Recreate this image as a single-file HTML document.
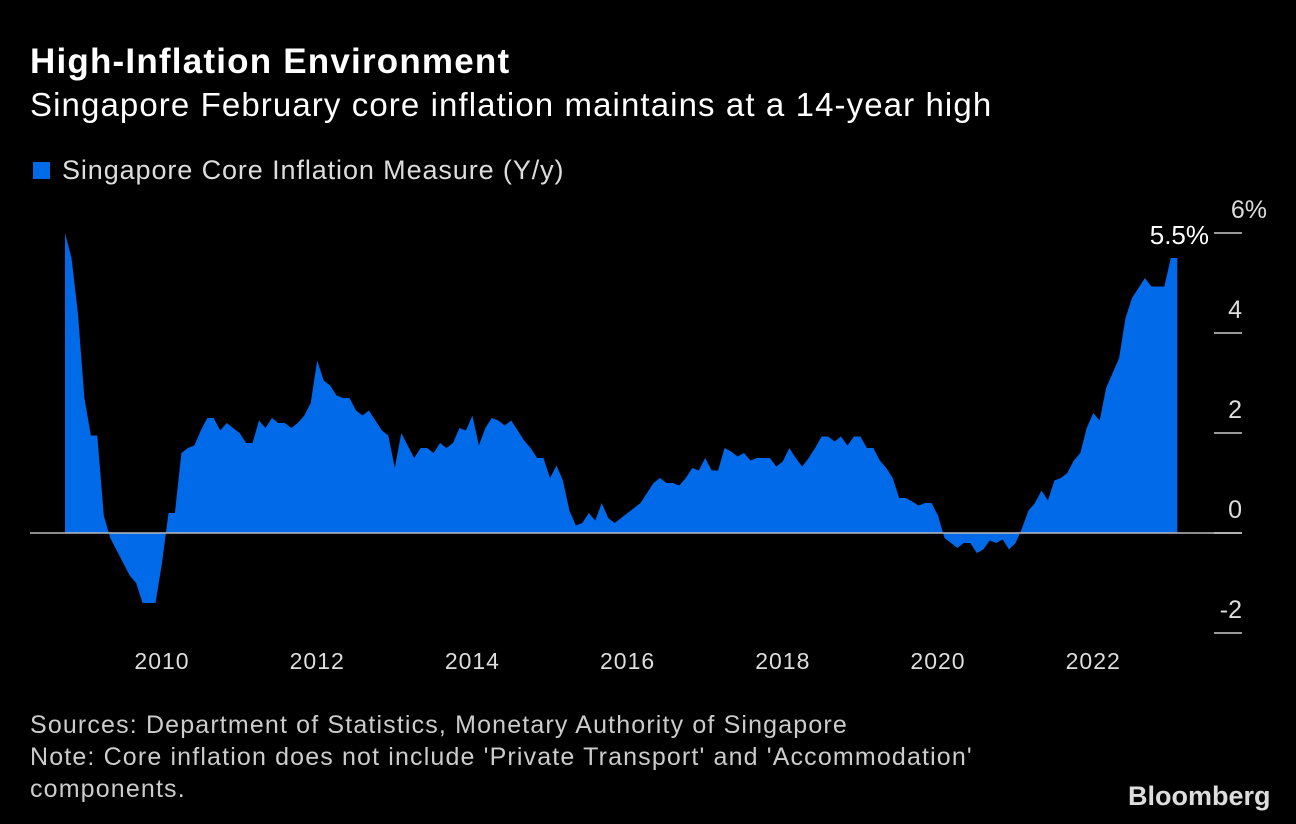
<!DOCTYPE html>
<html><head><meta charset="utf-8">
<style>
html,body{margin:0;padding:0;background:#000;}
body{width:1296px;height:824px;overflow:hidden;position:relative;font-family:"Liberation Sans",sans-serif;color:#fff;}
.t{position:absolute;white-space:nowrap;}
</style></head>
<body>
<div class="t" style="left:30px;top:42px;font-size:35px;font-weight:bold;letter-spacing:1.2px;">High-Inflation Environment</div>
<div class="t" style="left:30px;top:86px;font-size:33px;letter-spacing:1.1px;">Singapore February core inflation maintains at a 14-year high</div>
<div class="t" style="left:33px;top:155px;font-size:27px;color:#ddd;letter-spacing:0.9px;"><span style="display:inline-block;width:17px;height:17px;background:#006ae8;margin-right:12px;vertical-align:0px;"></span>Singapore Core Inflation Measure (Y/y)</div>
<svg id="chart" width="1296" height="824" style="position:absolute;left:0;top:0;" xmlns="http://www.w3.org/2000/svg"></svg>
<div class="t" style="left:30px;top:709px;font-size:25px;color:#ccc;line-height:32px;letter-spacing:1.15px;">Sources: Department of Statistics, Monetary Authority of Singapore<br>Note: Core inflation does not include 'Private Transport' and 'Accommodation'<br>components.</div>
<div class="t" style="left:1128px;top:781px;font-size:27px;font-weight:bold;color:#ddd;letter-spacing:0px;">Bloomberg</div>
<script>
const values = [6.0,5.5,4.4,2.7,1.95,1.95,0.35,-0.1,-0.35,-0.6,-0.85,-1.0,-1.4,-1.4,-1.4,-0.6,0.4,0.4,1.6,1.7,1.75,2.05,2.3,2.3,2.05,2.2,2.1,2.0,1.8,1.8,2.25,2.1,2.3,2.2,2.2,2.1,2.2,2.35,2.6,3.45,3.05,2.95,2.75,2.7,2.7,2.45,2.35,2.45,2.25,2.05,1.95,1.3,2.0,1.75,1.5,1.7,1.7,1.6,1.8,1.7,1.8,2.1,2.05,2.35,1.75,2.1,2.3,2.25,2.15,2.25,2.05,1.85,1.7,1.5,1.5,1.1,1.35,1.05,0.45,0.15,0.2,0.4,0.25,0.6,0.3,0.2,0.3,0.4,0.5,0.6,0.8,1.0,1.1,1.0,1.0,0.95,1.1,1.3,1.25,1.5,1.25,1.25,1.7,1.63,1.53,1.6,1.45,1.5,1.5,1.5,1.33,1.43,1.7,1.5,1.33,1.5,1.7,1.93,1.93,1.83,1.93,1.75,1.93,1.93,1.7,1.7,1.45,1.3,1.1,0.7,0.7,0.63,0.55,0.6,0.6,0.35,-0.1,-0.2,-0.3,-0.2,-0.2,-0.4,-0.33,-0.15,-0.2,-0.13,-0.33,-0.2,0.1,0.45,0.6,0.85,0.65,1.05,1.1,1.2,1.45,1.6,2.1,2.4,2.25,2.9,3.2,3.5,4.3,4.7,4.9,5.1,4.93,4.93,4.93,5.5,5.5];
const startYear = 2008, startMonth = 10;
const yTicks = [6,4,2,0,-2];
const xTickYears = [2010,2012,2014,2016,2018,2020,2022];
const lastLabel = "5.5%";

const svg = document.getElementById('chart');
const NS = 'http://www.w3.org/2000/svg';
const x0 = 162, pxPerYear = 77.6;
function xScale(year, month){ return x0 + ((year - 2010) + (month - 1)/12) * pxPerYear; }
function xIdx(i){ const m = startMonth - 1 + i; return xScale(startYear + Math.floor(m/12), (m%12)+1); }
function yScale(v){ return 533 - v*50; }

let d = 'M' + xIdx(0) + ' ' + yScale(0);
values.forEach((v,i)=>{ d += ' L' + xIdx(i).toFixed(1) + ' ' + yScale(v).toFixed(1); });
d += ' L' + xIdx(values.length-1).toFixed(1) + ' ' + yScale(0) + ' Z';
const area = document.createElementNS(NS,'path');
area.setAttribute('d', d);
area.setAttribute('fill', '#006ae8');


svg.appendChild(area);

const base = document.createElementNS(NS,'line');
base.setAttribute('x1', 30); base.setAttribute('x2', 1242);
base.setAttribute('y1', yScale(0)); base.setAttribute('y2', yScale(0));
base.setAttribute('stroke', '#bbb'); base.setAttribute('stroke-width', '1.5');


svg.appendChild(base);

yTicks.forEach(t=>{
  const ln = document.createElementNS(NS,'line');
  ln.setAttribute('x1', 1214); ln.setAttribute('x2', 1242);
  ln.setAttribute('y1', yScale(t)); ln.setAttribute('y2', yScale(t));
  ln.setAttribute('stroke', '#ccc'); ln.setAttribute('stroke-width', '1.5');
  
  
  svg.appendChild(ln);
  const tx = document.createElementNS(NS,'text');
  tx.setAttribute('x', t===6 ? 1267 : 1242); tx.setAttribute('y', yScale(t) - 15);
  tx.setAttribute('text-anchor', 'end');
  tx.setAttribute('fill', '#ddd'); tx.setAttribute('font-size', '25');
  tx.setAttribute('font-family', 'Liberation Sans, sans-serif');
  tx.textContent = t===6 ? '6%' : String(t);
  
  
  svg.appendChild(tx);
});

xTickYears.forEach(yr=>{
  const tx = document.createElementNS(NS,'text');
  tx.setAttribute('x', xScale(yr,1)); tx.setAttribute('y', 669);
  tx.setAttribute('text-anchor', 'middle');
  tx.setAttribute('fill', '#ddd'); tx.setAttribute('font-size', '23');
  tx.setAttribute('letter-spacing', '1');
  tx.setAttribute('font-family', 'Liberation Sans, sans-serif');
  tx.textContent = String(yr);
  
  
  svg.appendChild(tx);
});

const lab = document.createElementNS(NS,'text');
lab.setAttribute('x', 1209); lab.setAttribute('y', 244);
lab.setAttribute('text-anchor', 'end');
lab.setAttribute('fill', '#fff'); lab.setAttribute('font-size', '26');
lab.setAttribute('font-family', 'Liberation Sans, sans-serif');
lab.textContent = lastLabel;


svg.appendChild(lab);
</script>
</body></html>
